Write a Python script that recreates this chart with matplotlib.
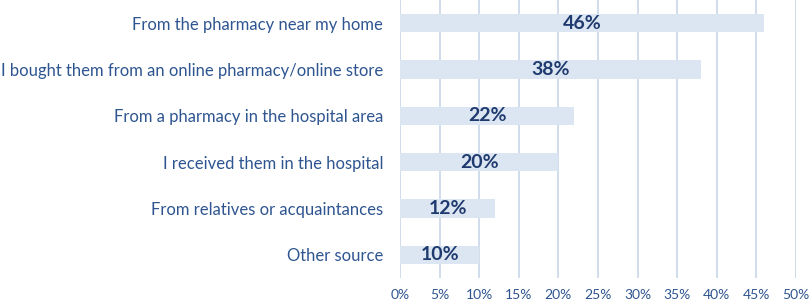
import matplotlib
matplotlib.use("Agg")
import matplotlib.pyplot as plt

categories = [
    "From the pharmacy near my home",
    "I bought them from an online pharmacy/online store",
    "From a pharmacy in the hospital area",
    "I received them in the hospital",
    "From relatives or acquaintances",
    "Other source",
]
values = [46, 38, 22, 20, 12, 10]
xticks = list(range(0, 51, 5))

label_color = "#2e5590"
value_color = "#1f3a6e"
bar_color = "#dce6f2"
grid_color = "#cddaec"

plt.rcParams["font.family"] = ["Lato", "DejaVu Sans"]

fig = plt.figure(figsize=(8.09, 3.04), dpi=100)
ax = fig.add_axes([400 / 809, 26 / 304, 396 / 809, 278 / 304])

ypos = list(range(len(categories)))
ax.barh(ypos, values, height=0.39, color=bar_color, zorder=2)
for y, v in zip(ypos, values):
    ax.text(v / 2, y, f"{v}%", ha="center", va="center", fontsize=14,
            fontweight="bold", color=value_color, zorder=3)

ax.set_xlim(0, 50)
ax.set_ylim(len(categories) - 0.5, -0.5)
ax.set_xticks(xticks)
ax.set_xticklabels([f"{t}%" for t in xticks], fontsize=10, color=label_color)
ax.set_yticks(ypos)
ax.set_yticklabels(categories, fontsize=12, color=label_color)
ax.tick_params(axis="both", length=0)
ax.tick_params(axis="y", pad=12)
ax.tick_params(axis="x", pad=8)
ax.grid(axis="x", color=grid_color, linewidth=1.3, zorder=0)
for s in ax.spines.values():
    s.set_visible(False)

fig.savefig("out.png", dpi=100)
